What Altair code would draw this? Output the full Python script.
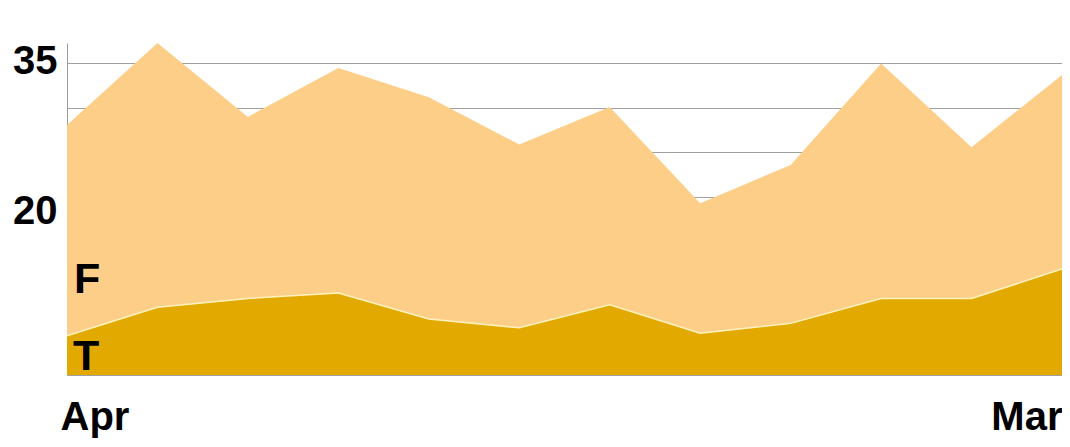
import altair as alt
import pandas as pd

months = ["Apr", "May", "Jun", "Jul", "Aug", "Sep", "Oct", "Nov", "Dec", "Jan", "Feb", "Mar"]
t_values = [4.4, 7.6, 8.6, 9.2, 6.3, 5.3, 7.9, 4.7, 5.8, 8.6, 8.6, 11.9]
f_values = [23.7, 29.7, 20.4, 25.3, 24.9, 20.6, 22.2, 14.6, 17.8, 26.4, 17.0, 21.8]
series_names = ["T", "F"]
series_colors = ["#E2AA00", "#FDCE87"]
y_ticks = [0, 5, 10, 15, 20, 25, 30, 35]
x_labels = ["Apr", "Mar"]

rows = []
for i, m in enumerate(months):
    rows.append({"month": m, "series": "T", "value": t_values[i], "ord": 0})
    rows.append({"month": m, "series": "F", "value": f_values[i], "ord": 1})
df = pd.DataFrame(rows)

FONT = "Liberation Sans"

x_enc = alt.X(
    "month:N",
    sort=months,
    scale=alt.Scale(type="point", padding=0),
    axis=alt.Axis(
        values=x_labels,
        title=None,
        ticks=False,
        domain=False,
        grid=False,
        labelAngle=0,
        labelFont=FONT,
        labelFontSize=40,
        labelFontWeight="bold",
        labelColor="black",
        labelPadding=22,
        labelAlign={"condition": {"test": "datum.value == 'Apr'", "value": "left"}, "value": "right"},
        labelOffset={"condition": {"test": "datum.value == 'Apr'", "value": -7}, "value": 0},
    ),
)

y_axis = alt.Axis(
    values=y_ticks,
    labelExpr="datum.value == 35 || datum.value == 20 ? datum.label : ''",
    title=None,
    ticks=False,
    domainColor="#9a9a9a",
    domainWidth=1,
    gridColor="#a0a0a0",
    gridWidth=1,
    labelFont=FONT,
    labelFontSize=40,
    labelFontWeight="bold",
    labelColor="black",
    labelPadding=10,
    labelOffset={"condition": {"test": "datum.value == 20", "value": 15}, "value": -2},
)

area = alt.Chart(df).mark_area(opacity=1).encode(
    x=x_enc,
    y=alt.Y("value:Q", stack="zero", scale=alt.Scale(nice=False, zero=True), axis=y_axis),
    color=alt.Color("series:N", scale=alt.Scale(domain=series_names, range=series_colors), legend=None),
    order=alt.Order("ord:Q"),
)

boundary = alt.Chart(df).transform_filter("datum.series == 'T'").mark_line(
    color="#FFF2BE", strokeWidth=1.5
).encode(
    x=alt.X("month:N", sort=months),
    y=alt.Y("value:Q", stack=None),
)

lab_df = pd.DataFrame({"month": [months[0], months[0]], "label": ["F", "T"], "value": [t_values[0], 0]})

f_label = alt.Chart(lab_df).transform_filter("datum.label == 'F'").mark_text(
    font=FONT, fontSize=43, fontWeight="bold", color="black", align="left", baseline="alphabetic", dx=7, dy=-43
).encode(x=alt.X("month:N", sort=months), y=alt.Y("value:Q"), text="label:N")

t_label = alt.Chart(lab_df).transform_filter("datum.label == 'T'").mark_text(
    font=FONT, fontSize=43, fontWeight="bold", color="black", align="left", baseline="alphabetic", dx=6, dy=-5
).encode(x=alt.X("month:N", sort=months), y=alt.Y("value:Q"), text="label:N")

chart = alt.layer(area, boundary, f_label, t_label).properties(
    width=995,
    height=332,
    padding={"left": 59, "top": 35, "right": 0, "bottom": 64},
    autosize=alt.AutoSizeParams(type="none"),
).configure(background="white").configure_view(stroke=None)

chart.save("out.html", embed_options={"renderer": "svg", "actions": False})
